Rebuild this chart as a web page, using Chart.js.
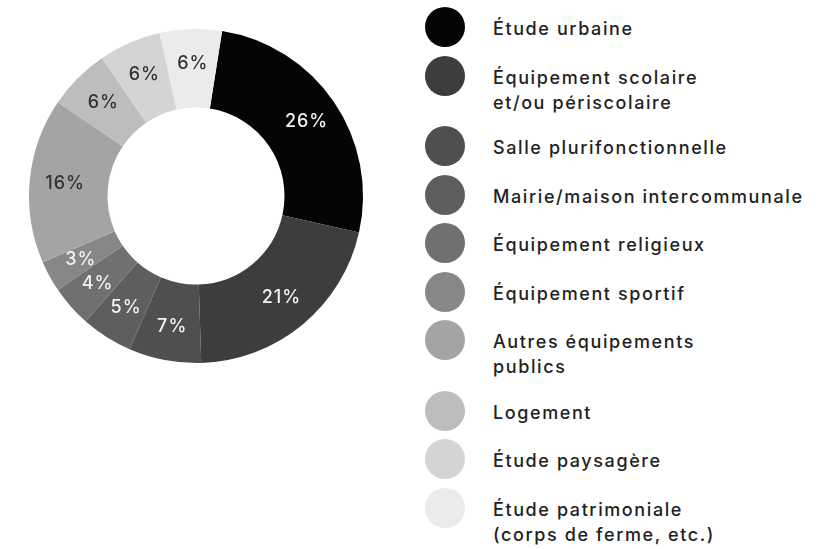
<!DOCTYPE html>
<html lang="fr">
<head>
<meta charset="UTF-8">
<title>Répartition des projets</title>
<script src="https://cdn.jsdelivr.net/npm/chart.js"></script>
<style>
    body {
        margin: 0;
        width: 840px;
        height: 549px;
        background: #fff;
        position: relative;
        overflow: hidden;
        font-family: Inter, "DejaVu Sans", sans-serif;
    }
    #chartBox {
        position: absolute;
        left: 0;
        top: 0;
        width: 392px;
        height: 392px;
    }
    #legend {
        position: absolute;
        left: 425px;
        top: 7px;
    }
    .item {
        display: flex;
        align-items: flex-start;
        margin-bottom: 8.5px;
    }
    .dot {
        width: 40px;
        height: 40px;
        border-radius: 50%;
        flex: none;
    }
    .txt {
        margin-left: 28px;
        margin-top: 9px;
        padding-bottom: 3px;
        font-size: 18px;
        font-weight: 500;
        line-height: 25px;
        letter-spacing: 1.6px;
        color: #222;
        white-space: nowrap;
    }
</style>
</head>
<body>
<div id="chartBox"><canvas id="donut" width="392" height="392"></canvas></div>
<div id="legend"></div>
<script>
    const categories = [
        'Étude urbaine',
        ['Équipement scolaire', 'et/ou périscolaire'],
        'Salle plurifonctionnelle',
        'Mairie/maison intercommunale',
        'Équipement religieux',
        'Équipement sportif',
        ['Autres équipements', 'publics'],
        'Logement',
        'Étude paysagère',
        ['Étude patrimoniale', '(corps de ferme, etc.)']
    ];
    const shares = [26, 21, 7, 5, 4, 3, 16, 6, 6, 6];
    const greys = ['#050505', '#3d3d3d', '#4f4f4f', '#5e5e5e', '#707070', '#878787', '#a4a4a4', '#bdbdbd', '#d4d4d4', '#ebebeb'];
    const labelInk = ['#f2f2f2', '#f2f2f2', '#f2f2f2', '#f2f2f2', '#f2f2f2', '#f2f2f2', '#333', '#333', '#333', '#333'];

    // percentages written inside the ring
    const sliceLabels = {
        id: 'sliceLabels',
        afterDatasetsDraw(chart) {
            const ctx = chart.ctx;
            const meta = chart.getDatasetMeta(0);
            ctx.save();
            ctx.font = '500 18px Inter, "DejaVu Sans", sans-serif';
            ctx.letterSpacing = '1px';
            ctx.textAlign = 'center';
            ctx.textBaseline = 'middle';
            meta.data.forEach((arc, i) => {
                const p = arc.getProps(['x', 'y', 'startAngle', 'endAngle', 'innerRadius', 'outerRadius'], true);
                const mid = (p.startAngle + p.endAngle) / 2;
                const r = p.innerRadius + (p.outerRadius - p.innerRadius) * 0.56;
                ctx.fillStyle = labelInk[i];
                ctx.fillText(shares[i] + '%', p.x + Math.cos(mid) * r + 1, p.y + Math.sin(mid) * r);
            });
            ctx.restore();
        }
    };

    new Chart(document.getElementById('donut'), {
        type: 'doughnut',
        data: {
            labels: categories,
            datasets: [{
                data: shares,
                backgroundColor: greys,
                borderWidth: 0
            }]
        },
        options: {
            responsive: false,
            animation: false,
            rotation: 9,
            cutout: '53%',
            layout: { padding: 29 },
            plugins: {
                legend: { display: false },
                tooltip: { enabled: false }
            }
        },
        plugins: [sliceLabels]
    });

    const legend = document.getElementById('legend');
    categories.forEach((label, i) => {
        const row = document.createElement('div');
        row.className = 'item';
        const dot = document.createElement('div');
        dot.className = 'dot';
        dot.style.background = greys[i];
        const txt = document.createElement('div');
        txt.className = 'txt';
        txt.innerHTML = [].concat(label).join('<br>');
        row.appendChild(dot);
        row.appendChild(txt);
        legend.appendChild(row);
    });
</script>
</body>
</html>
